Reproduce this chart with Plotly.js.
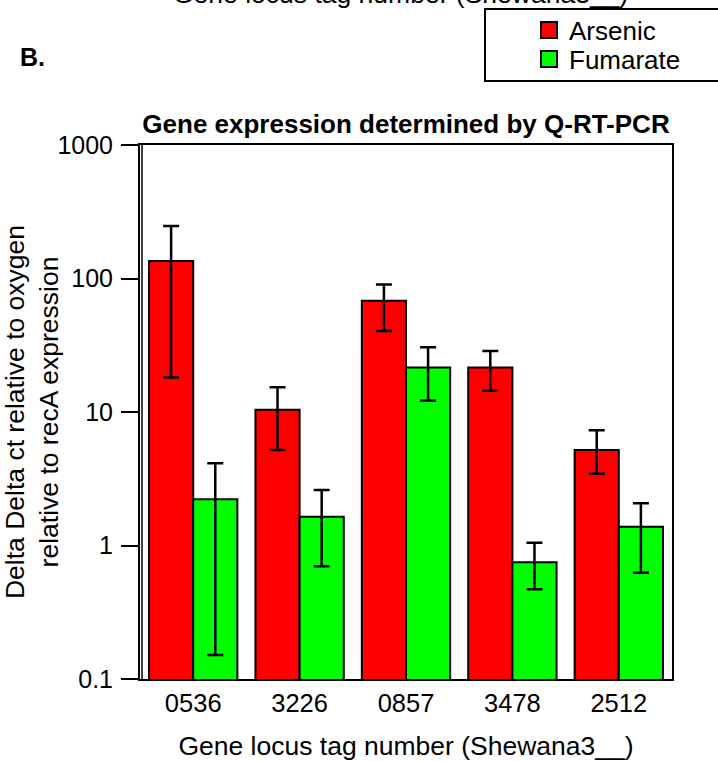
<!DOCTYPE html>
<html>
<head>
<meta charset="utf-8">
<script src="https://cdn.plot.ly/plotly-3.0.1.min.js"></script>
<style>
  html, body { margin: 0; padding: 0; background: #fff; }
  #chart { width: 718px; height: 761px; }
</style>
</head>
<body>
<div id="chart"></div>
<script>
// ---- data ----
const genes = ['0536', '3226', '0857', '3478', '2512'];
const seriesNames = ['Arsenic', 'Fumarate'];
const arsenic      = [135, 10.4, 68, 21.5, 5.2];
const arsenicHigh  = [247, 15.3, 90, 28.6, 7.3];
const arsenicLow   = [18.1, 5.2, 40.4, 14.4, 3.45];
const fumarate     = [2.22, 1.64, 21.5, 0.75, 1.38];
const fumarateHigh = [4.13, 2.6, 30.5, 1.05, 2.07];
const fumarateLow  = [0.151, 0.70, 12.2, 0.47, 0.625];
const yTickVals  = [0.1, 1, 10, 100, 1000];
const yTickText  = ['0.1', '1', '10', '100', '1000'];

const FONT = 'Liberation Sans, Arial, Helvetica, sans-serif';
const colors = ['#ff0000', '#00ff00'];

function barTrace(name, vals, hi, lo, color) {
  return {
    type: 'bar',
    name: name,
    x: genes,
    y: vals,
    showlegend: false,
    marker: { color: color, line: { color: '#000', width: 2 } },
    error_y: {
      type: 'data',
      symmetric: false,
      array: vals.map((v, i) => hi[i] - v),
      arrayminus: vals.map((v, i) => v - lo[i]),
      color: '#000',
      thickness: 2.5,
      width: 8
    }
  };
}

function legendProxy(name, color, legendId) {
  return {
    type: 'scatter',
    mode: 'markers',
    name: name,
    x: [null], y: [null],
    legend: legendId,
    showlegend: true,
    hoverinfo: 'skip',
    marker: { symbol: 'square', size: 16, color: color, line: { color: '#000', width: 2 } }
  };
}

const traces = [
  barTrace(seriesNames[0], arsenic, arsenicHigh, arsenicLow, colors[0]),
  barTrace(seriesNames[1], fumarate, fumarateHigh, fumarateLow, colors[1]),
  legendProxy(seriesNames[0], colors[0], 'legend'),
  legendProxy(seriesNames[1], colors[1], 'legend2')
];

const L = 140, R = 46, T = 145, B = 82;
const W = 718, H = 761;
const pw = W - L - R, ph = H - T - B;
const px = (x) => (x - L) / pw;
const py = (y) => 1 - (y - T) / ph;

const legendCommon = {
  xanchor: 'left', yanchor: 'middle',
  bgcolor: 'rgba(0,0,0,0)', borderwidth: 0,
  font: { family: FONT, size: 26, color: '#000' }
};

const layout = {
  width: W, height: H,
  margin: { l: L, r: R, t: T, b: B, autoexpand: false },
  paper_bgcolor: '#fff',
  plot_bgcolor: '#fff',
  font: { family: FONT, size: 26, color: '#000' },
  barmode: 'group',
  bargap: 0.17,
  bargroupgap: 0,
  title: {
    text: '<b>Gene expression determined by Q-RT-PCR</b>',
    font: { family: FONT, size: 26, color: '#000' },
    xref: 'paper', x: 0.5, xanchor: 'center',
    yref: 'container', y: 1 - 124 / H, yanchor: 'middle'
  },
  xaxis: {
    type: 'category',
    range: [-0.5, 4.5],
    showline: true, linecolor: '#000', linewidth: 2, mirror: true,
    ticks: '', showgrid: false, zeroline: false,
    ticklabelstandoff: 0,
    tickfont: { family: FONT, size: 25.5, color: '#000' },
    title: {
      text: 'Gene locus tag number (Shewana3__)',
      font: { family: FONT, size: 26.5, color: '#000' },
      standoff: 22
    },
    fixedrange: true
  },
  yaxis: {
    type: 'log',
    range: [-1, 3],
    tickvals: yTickVals, ticktext: yTickText,
    showline: true, linecolor: '#000', linewidth: 2, mirror: true,
    ticks: 'outside', ticklen: 17, tickwidth: 2, tickcolor: '#000',
    ticklabelstandoff: 3,
    showgrid: false, zeroline: false,
    tickfont: { family: FONT, size: 25, color: '#000' },
    title: {
      text: 'Delta Delta ct relative to oxygen<br>relative to recA expression',
      font: { family: FONT, size: 26.5, color: '#000' },
      standoff: 0
    },
    fixedrange: true
  },
  legend: Object.assign({}, legendCommon, { x: px(529), y: py(30) }),
  legend2: Object.assign({}, legendCommon, { x: px(529), y: py(59) }),
  shapes: [
    // inner frame line next to the y axis (double line in reference)
    { type: 'line', xref: 'paper', yref: 'paper', xsizemode: 'pixel', xanchor: 0,
      x0: 2, x1: 2, y0: 0, y1: 1, line: { color: '#000', width: 1.5 } },
    // legend box
    { type: 'rect', xref: 'paper', yref: 'paper', x0: px(485), x1: px(740), y0: py(81), y1: py(9),
      line: { color: '#000', width: 2 }, fillcolor: 'rgba(0,0,0,0)' }
  ],
  annotations: [
    { text: '<b>B.</b>', xref: 'paper', yref: 'paper', x: px(32), y: py(57),
      xanchor: 'center', yanchor: 'middle', showarrow: false,
      font: { family: FONT, size: 25, color: '#000' } },
    { text: 'Gene locus tag number (Shewana3__)', xref: 'paper', yref: 'paper',
      x: px(400), y: py(-6), xanchor: 'center', yanchor: 'middle', showarrow: false,
      font: { family: FONT, size: 26.5, color: '#000' } }
  ]
};

Plotly.newPlot('chart', traces, layout, { displayModeBar: false, staticPlot: true });
</script>
</body>
</html>
